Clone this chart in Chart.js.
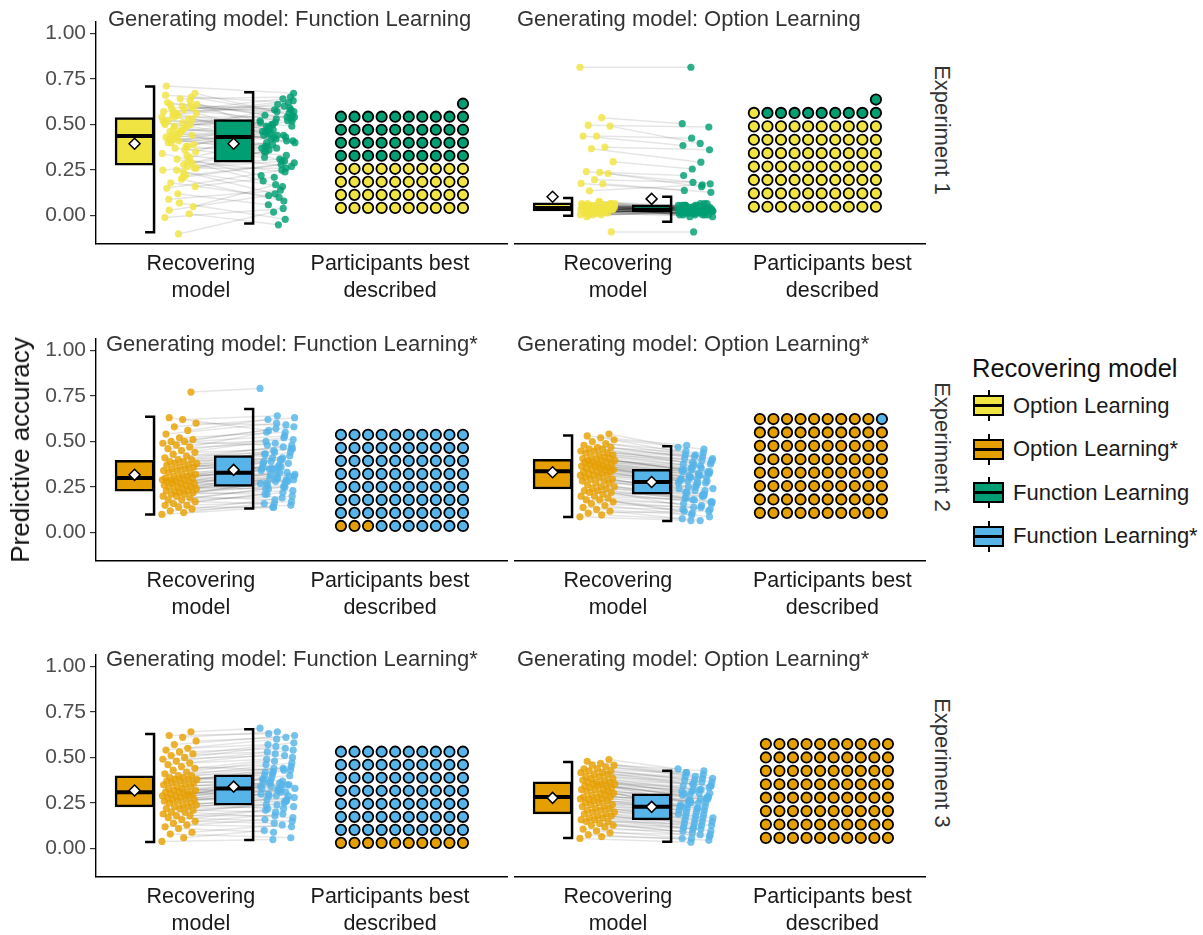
<!DOCTYPE html>
<html>
<head>
<meta charset="utf-8">
<script src="https://cdn.jsdelivr.net/npm/chart.js@4.4.1/dist/chart.umd.min.js"></script>
<style>
  body { margin: 0; background: #fff; }
  #fig { position: relative; width: 1203px; height: 935px; overflow: hidden; font-family: "Liberation Sans", Arial, Helvetica, sans-serif; }
  #fig canvas { position: absolute; }
  .txt { position: absolute; white-space: nowrap; line-height: 1; transform: translateY(-50%); }
  .strip { position: absolute; white-space: nowrap; line-height: 1; writing-mode: vertical-rl; transform: translate(-50%, -50%); font-size: 22px; color: #333; }
  .key, .whisk, .med { position: absolute; box-sizing: border-box; }
  .key { width: 31px; height: 21px; border: 2px solid #000; }
  .whisk { width: 2px; height: 31px; background: #000; }
  .med { width: 31px; height: 3px; background: #000; }
</style>
</head>
<body>
<div id="fig"></div>
<script>
/* global Chart */

const FONT = '"Liberation Sans", Arial, Helvetica, sans-serif';

const yTicks = [0, 0.25, 0.5, 0.75, 1];
const xLabels = [['Recovering', 'model'], ['Participants best', 'described']];
const experiments = ['Experiment 1', 'Experiment 2', 'Experiment 3'];
const modelNames = ['Option Learning', 'Option Learning*', 'Function Learning', 'Function Learning*'];
const modelColors = ['#F0E442', '#E69F00', '#009E73', '#56B4E9'];

// box stats per recovering model: [lower whisker, q1, median, q3, upper whisker, mean]
// Experiment 1, generated by Function Learning
const e1FuncOpt = [0.54, 0.28, 0.61, 0.44, -0.10, 0.50, 0.33, 0.57, 0.16, 0.47, 0.40, 0.63, 0.25, 0.52, 0.36, 0.59, 0.05, 0.45, 0.71, 0.30,
  0.49, 0.56, 0.21, 0.42, 0.65, 0.12, 0.51, 0.38, 0.55, 0.26, 0.46, 0.62, 0.01, 0.43, 0.34, 0.58, 0.18, 0.53, 0.41, 0.66,
  0.27, 0.48, 0.35, 0.60, 0.09, 0.50, 0.31, 0.57, 0.22, 0.44, 0.39, 0.64, 0.15, 0.53, 0.37, 0.61, 0.24, 0.46, 0.29, 0.55,
  -0.01, 0.49, 0.42, 0.67, 0.20, 0.52, 0.32, 0.56, 0.25, 0.48, 0.40, 0.59, 0.07, 0.43, 0.38, 0.54, 0.26, 0.51, 0.03, 0.60, 0.45];
const e1FuncFunc = [0.50, 0.35, 0.58, 0.30, 0.02, 0.55, 0.27, 0.64, 0.21, 0.46, 0.52, 0.44, 0.12, 0.49, 0.41, 0.60, 0.17, 0.38, 0.67, 0.24,
  0.53, 0.47, 0.29, 0.43, 0.57, 0.06, 0.40, 0.33, 0.61, 0.36, 0.51, 0.54, -0.05, 0.48, 0.22, 0.52, 0.10, 0.45, 0.37, 0.62,
  0.31, 0.42, 0.46, 0.56, 0.14, 0.50, 0.19, 0.59, 0.28, 0.39, 0.44, 0.65, 0.25, 0.47, 0.32, 0.53, 0.16, 0.43, 0.38, 0.49,
  0.04, 0.58, 0.35, 0.55, 0.08, 0.51, 0.40, 0.63, 0.30, 0.42, 0.45, 0.57, -0.02, 0.37, 0.48, 0.54, 0.26, 0.44, 0.11, 0.52, 0.41];
const e1FuncBox = [[-0.09, 0.277, 0.436, 0.537, 0.707, 0.394], [-0.043, 0.293, 0.431, 0.527, 0.676, 0.394]];
const e1FuncBest = [40, 41];

// Experiment 1, generated by Option Learning
const e1OptOpt = [0.785, 0.517, 0.477, 0.472, 0.419, 0.419, 0.36, 0.352, 0.283, 0.226, 0.23, 0.22, 0.187, 0.167, 0.165, 0.128, -0.091,
  0.03, 0.01, 0.05, 0.02, 0.04, 0.00, 0.06, 0.03, 0.02, 0.04, 0.01, 0.05, 0.03, 0.07, 0.02, 0.04,
  0.03, 0.00, 0.05, 0.02, 0.06, 0.01, 0.04, 0.03, 0.02, 0.05, 0.03, -0.01, 0.04, 0.02, 0.06, 0.03,
  0.01, 0.04, 0.02, 0.05, 0.03, 0.00, 0.06, 0.02, 0.04, 0.03, 0.01, 0.05, 0.02, 0.04, 0.03, 0.07,
  0.02, 0.01, 0.05, 0.03, 0.04, 0.00, 0.06, 0.02, 0.03, 0.04, 0.01, 0.05, 0.02, 0.03, 0.04, 0.03];
const e1OptFunc = [0.785, 0.485, 0.467, 0.38, 0.408, 0.369, 0.346, 0.28, 0.244, 0.209, 0.165, 0.15, 0.173, 0.13, 0.12, 0.16, -0.091,
  0.02, 0.03, 0.04, 0.01, 0.05, 0.02, 0.03, 0.00, 0.04, 0.02, 0.06, 0.01, 0.03, 0.05, 0.00, 0.02,
  0.04, 0.01, 0.03, 0.05, 0.02, 0.00, 0.03, 0.04, 0.01, 0.02, 0.06, 0.03, -0.01, 0.04, 0.02, 0.01,
  0.03, 0.05, 0.00, 0.02, 0.04, 0.01, 0.03, 0.06, 0.02, 0.00, 0.04, 0.03, 0.01, 0.05, 0.02, 0.03,
  0.01, 0.04, 0.02, 0.00, 0.03, 0.05, 0.02, 0.01, 0.04, 0.03, -0.01, 0.02, 0.05, 0.01, 0.03, 0.02];
const e1OptBox = [[-0.005, 0.021, 0.037, 0.064, 0.09, 0.096], [-0.037, 0.016, 0.027, 0.053, 0.096, 0.085]];
const e1OptBest = [71, 10];

// Experiment 2, generated by Function Learning*
const e2FuncOpt = [0.10, 0.11, 0.12, 0.13, 0.14, 0.15, 0.15, 0.16, 0.17, 0.18, 0.18, 0.19, 0.20, 0.20, 0.21, 0.21, 0.22, 0.22, 0.23, 0.23,
  0.23, 0.24, 0.24, 0.25, 0.25, 0.25, 0.26, 0.26, 0.27, 0.27, 0.27, 0.28, 0.28, 0.28, 0.29, 0.29, 0.29, 0.30, 0.30, 0.30,
  0.31, 0.31, 0.32, 0.32, 0.33, 0.33, 0.34, 0.34, 0.35, 0.35, 0.36, 0.36, 0.37, 0.37, 0.38, 0.38, 0.39, 0.39, 0.40, 0.40,
  0.41, 0.42, 0.43, 0.44, 0.45, 0.46, 0.47, 0.48, 0.49, 0.50, 0.50, 0.51, 0.52, 0.54, 0.56, 0.58, 0.60, 0.62, 0.63, 0.77];
const e2FuncFunc = [0.14, 0.16, 0.15, 0.19, 0.14, 0.21, 0.17, 0.22, 0.16, 0.24, 0.20, 0.25, 0.18, 0.27, 0.23, 0.26, 0.28, 0.21, 0.29, 0.25,
  0.30, 0.26, 0.31, 0.28, 0.33, 0.24, 0.32, 0.29, 0.30, 0.35, 0.27, 0.33, 0.36, 0.30, 0.34, 0.28, 0.37, 0.32, 0.35, 0.38,
  0.33, 0.39, 0.36, 0.31, 0.40, 0.35, 0.38, 0.42, 0.36, 0.41, 0.39, 0.44, 0.40, 0.35, 0.43, 0.46, 0.41, 0.45, 0.43, 0.48,
  0.47, 0.44, 0.50, 0.46, 0.52, 0.49, 0.55, 0.51, 0.53, 0.57, 0.48, 0.58, 0.55, 0.60, 0.62, 0.63, 0.59, 0.64, 0.56, 0.79];
const e2FuncBox = [[0.10, 0.228, 0.30, 0.397, 0.635, 0.317], [0.132, 0.254, 0.328, 0.423, 0.677, 0.344]];
const e2FuncBest = [3, 77];

// Experiment 2, generated by Option Learning*
const e2OptOpt = [0.08, 0.09, 0.10, 0.11, 0.12, 0.13, 0.14, 0.15, 0.16, 0.17, 0.17, 0.18, 0.19, 0.19, 0.20, 0.21, 0.21, 0.22, 0.22, 0.23,
  0.23, 0.24, 0.24, 0.25, 0.26, 0.26, 0.27, 0.27, 0.28, 0.28, 0.29, 0.29, 0.30, 0.30, 0.30, 0.31, 0.31, 0.32, 0.32, 0.32,
  0.33, 0.33, 0.33, 0.34, 0.34, 0.34, 0.35, 0.35, 0.35, 0.36, 0.36, 0.36, 0.37, 0.37, 0.37, 0.38, 0.38, 0.38, 0.39, 0.39,
  0.39, 0.40, 0.40, 0.41, 0.41, 0.42, 0.42, 0.43, 0.43, 0.44, 0.44, 0.45, 0.45, 0.46, 0.47, 0.48, 0.49, 0.50, 0.51, 0.52];
const e2OptFunc = [0.06, 0.07, 0.11, 0.06, 0.09, 0.12, 0.08, 0.13, 0.10, 0.15, 0.12, 0.14, 0.17, 0.11, 0.16, 0.19, 0.13, 0.18, 0.15, 0.20,
  0.17, 0.21, 0.16, 0.19, 0.22, 0.18, 0.23, 0.20, 0.24, 0.21, 0.26, 0.22, 0.25, 0.27, 0.23, 0.26, 0.28, 0.24, 0.27, 0.29,
  0.26, 0.30, 0.28, 0.27, 0.31, 0.29, 0.28, 0.32, 0.30, 0.29, 0.33, 0.31, 0.30, 0.34, 0.32, 0.31, 0.35, 0.33, 0.36, 0.32,
  0.34, 0.37, 0.33, 0.36, 0.38, 0.35, 0.39, 0.37, 0.40, 0.36, 0.41, 0.38, 0.42, 0.40, 0.43, 0.39, 0.44, 0.41, 0.46, 0.45];
const e2OptBox = [[0.079, 0.228, 0.323, 0.386, 0.513, 0.317], [0.058, 0.201, 0.265, 0.333, 0.455, 0.265]];
const e2OptBest = [79, 1];

// Experiment 3, generated by Function Learning*
const e3FuncOpt = [0.04, 0.06, 0.08, 0.09, 0.11, 0.12, 0.13, 0.14, 0.15, 0.16, 0.17, 0.18, 0.18, 0.19, 0.20, 0.20, 0.21, 0.22, 0.22, 0.23,
  0.23, 0.24, 0.24, 0.25, 0.25, 0.26, 0.26, 0.27, 0.27, 0.27, 0.28, 0.28, 0.29, 0.29, 0.29, 0.30, 0.30, 0.30, 0.31, 0.31,
  0.31, 0.32, 0.32, 0.33, 0.33, 0.34, 0.34, 0.35, 0.35, 0.36, 0.36, 0.37, 0.37, 0.38, 0.38, 0.38, 0.39, 0.39, 0.40, 0.40,
  0.41, 0.42, 0.43, 0.44, 0.45, 0.46, 0.47, 0.48, 0.49, 0.50, 0.51, 0.52, 0.53, 0.54, 0.55, 0.57, 0.59, 0.61, 0.62, 0.64];
const e3FuncFunc = [0.05, 0.10, 0.06, 0.13, 0.09, 0.16, 0.12, 0.19, 0.14, 0.21, 0.15, 0.22, 0.18, 0.24, 0.17, 0.25, 0.20, 0.27, 0.23, 0.26,
  0.29, 0.22, 0.28, 0.31, 0.24, 0.30, 0.33, 0.26, 0.32, 0.29, 0.34, 0.27, 0.33, 0.36, 0.30, 0.35, 0.32, 0.37, 0.33, 0.29,
  0.36, 0.34, 0.38, 0.35, 0.31, 0.39, 0.36, 0.40, 0.33, 0.41, 0.38, 0.43, 0.35, 0.42, 0.40, 0.45, 0.37, 0.44, 0.42, 0.47,
  0.44, 0.48, 0.46, 0.50, 0.43, 0.52, 0.49, 0.54, 0.51, 0.56, 0.53, 0.58, 0.55, 0.60, 0.57, 0.62, 0.61, 0.64, 0.63, 0.66];
const e3FuncBox = [[0.037, 0.229, 0.309, 0.399, 0.628, 0.319], [0.048, 0.239, 0.33, 0.404, 0.654, 0.34]];
const e3FuncBest = [10, 70];

// Experiment 3, generated by Option Learning*
const e3OptOpt = [0.05, 0.06, 0.07, 0.08, 0.09, 0.10, 0.11, 0.12, 0.12, 0.13, 0.14, 0.14, 0.15, 0.15, 0.16, 0.16, 0.17, 0.17, 0.18, 0.18,
  0.19, 0.19, 0.20, 0.20, 0.21, 0.21, 0.22, 0.22, 0.23, 0.23, 0.24, 0.24, 0.25, 0.25, 0.26, 0.26, 0.26, 0.27, 0.27, 0.27,
  0.28, 0.28, 0.29, 0.29, 0.30, 0.30, 0.31, 0.31, 0.31, 0.32, 0.32, 0.33, 0.33, 0.33, 0.34, 0.34, 0.34, 0.35, 0.35, 0.35,
  0.36, 0.36, 0.37, 0.37, 0.38, 0.38, 0.39, 0.39, 0.40, 0.40, 0.41, 0.41, 0.42, 0.42, 0.43, 0.44, 0.44, 0.45, 0.46, 0.47];
const e3OptFunc = [0.03, 0.05, 0.04, 0.07, 0.05, 0.09, 0.06, 0.10, 0.08, 0.11, 0.07, 0.12, 0.10, 0.13, 0.09, 0.14, 0.11, 0.15, 0.12, 0.16,
  0.13, 0.17, 0.14, 0.18, 0.15, 0.19, 0.16, 0.20, 0.17, 0.21, 0.18, 0.22, 0.19, 0.23, 0.20, 0.24, 0.21, 0.25, 0.22, 0.26,
  0.21, 0.25, 0.23, 0.27, 0.24, 0.28, 0.22, 0.26, 0.29, 0.25, 0.30, 0.27, 0.31, 0.24, 0.28, 0.32, 0.26, 0.30, 0.33, 0.29,
  0.31, 0.34, 0.29, 0.33, 0.35, 0.31, 0.36, 0.33, 0.37, 0.34, 0.38, 0.35, 0.39, 0.36, 0.40, 0.37, 0.41, 0.38, 0.40, 0.42];
const e3OptBox = [[0.053, 0.181, 0.271, 0.351, 0.457, 0.266], [0.032, 0.149, 0.218, 0.287, 0.41, 0.218]];
const e3OptBest = [80, 0];

// x layout on the shared 0.4 .. 2.6 axis
const BOX_X = [0.606, 1.135];
const BOX_HALF = 0.104;
const BRACKET_TICK = 0.048;
const PTS_X = [0.846, 1.369];
const PTS_HALF = 0.094;
const WAF_DX = 0.0724;
const WAF_DY = 0.0713;
const ROW_TOP = [15, 332, 648];

const panels = [
  { row: 0, col: 0, title: 'Generating model: Function Learning', models: [0, 2], a: e1FuncOpt, b: e1FuncFunc, box: e1FuncBox, best: e1FuncBest, wafX: 1.708, wafY: 0.043 },
  { row: 0, col: 1, title: 'Generating model: Option Learning', models: [0, 2], a: e1OptOpt, b: e1OptFunc, box: e1OptBox, best: e1OptBest, wafX: 1.681, wafY: 0.043 },
  { row: 1, col: 0, title: 'Generating model: Function Learning*', models: [1, 3], a: e2FuncOpt, b: e2FuncFunc, box: e2FuncBox, best: e2FuncBest, wafX: 1.708, wafY: 0.037 },
  { row: 1, col: 1, title: 'Generating model: Option Learning*', models: [1, 3], a: e2OptOpt, b: e2OptFunc, box: e2OptBox, best: e2OptBest, wafX: 1.713, wafY: 0.101 },
  { row: 2, col: 0, title: 'Generating model: Function Learning*', models: [1, 3], a: e3FuncOpt, b: e3FuncFunc, box: e3FuncBox, best: e3FuncBest, wafX: 1.708, wafY: 0.032 },
  { row: 2, col: 1, title: 'Generating model: Option Learning*', models: [1, 3], a: e3OptOpt, b: e3OptFunc, box: e3OptBox, best: e3OptBest, wafX: 1.745, wafY: 0.053 },
];

const fig = document.getElementById('fig');

function addText(text, left, top, size, color, cls) {
  const el = document.createElement('div');
  el.className = cls || 'txt';
  el.textContent = text;
  el.style.left = `${left}px`;
  el.style.top = `${top}px`;
  if (size) el.style.fontSize = `${size}px`;
  if (color) el.style.color = color;
  fig.appendChild(el);
  return el;
}

function jitter(i, k) {
  const g = k === 0 ? 0.6180339887 : 0.7548776662;
  return ((i * g + k * 0.37) % 1) * 2 - 1;
}

function buildPanel(p) {
  const cols = p.models.map((m) => modelColors[m]);
  const datasets = [];

  // waffle of best described participants, last partial row pushed to the right
  const total = p.best[0] + p.best[1];
  const fullRows = Math.floor(total / 10);
  const shift = 10 - (total % 10);
  const cells = [[], []];
  let k = 0;
  p.best.forEach((n, s) => {
    for (let j = 0; j < n; j += 1) {
      const row = Math.floor(k / 10);
      const col = (k % 10) + (row === fullRows ? shift : 0);
      cells[s].push({ x: p.wafX + col * WAF_DX, y: p.wafY + row * WAF_DY });
      k += 1;
    }
  });
  cells.forEach((c, s) => datasets.push({
    type: 'scatter', data: c, backgroundColor: cols[s], borderColor: '#000', borderWidth: 1.8, pointRadius: 5.2, order: 0,
  }));

  // means
  datasets.push({
    type: 'scatter',
    data: p.box.map((b, s) => ({ x: BOX_X[s], y: b[5] })),
    pointStyle: 'rectRot', pointRadius: 5.5, backgroundColor: '#fff', borderColor: '#000', borderWidth: 1.5, order: 0,
  });

  p.box.forEach((b, s) => {
    const xr = BOX_X[s] + BOX_HALF;
    datasets.push({
      type: 'line', showLine: true, data: [{ x: BOX_X[s] - BOX_HALF, y: b[2] }, { x: xr, y: b[2] }],
      borderColor: '#000', borderWidth: 4, pointRadius: 0, borderCapStyle: 'butt', order: 1,
    });
    datasets.push({
      type: 'line', showLine: true,
      data: [{ x: xr - BRACKET_TICK, y: b[4] }, { x: xr, y: b[4] }, { x: xr, y: b[0] }, { x: xr - BRACKET_TICK, y: b[0] }],
      borderColor: '#000', borderWidth: 2.5, pointRadius: 0, borderJoinStyle: 'miter', borderCapStyle: 'butt', order: 1,
    });
  });

  // interquartile boxes
  datasets.push({
    type: 'bar',
    data: p.box.map((b, s) => ({ x: BOX_X[s], y: [b[1], b[3]] })),
    backgroundColor: cols, borderColor: '#000', borderWidth: 2.5, borderSkipped: false, barThickness: 39, order: 2,
  });

  // participants
  const ptsA = p.a.map((v, i) => ({ x: PTS_X[0] + jitter(i, 0) * PTS_HALF, y: v }));
  const ptsB = p.b.map((v, i) => ({ x: PTS_X[1] + jitter(i, 1) * PTS_HALF, y: v }));
  [ptsA, ptsB].forEach((pts, s) => datasets.push({
    type: 'scatter', data: pts, backgroundColor: `${cols[s]}d0`, borderWidth: 0, pointRadius: 3.6, order: 3,
  }));
  ptsA.forEach((pt, i) => datasets.push({
    type: 'line', showLine: true, data: [pt, ptsB[i]], borderColor: 'rgba(0,0,0,0.10)', borderWidth: 1.5, pointRadius: 0, order: 4,
  }));

  const left = p.col === 0 ? 0 : 514;
  const width = p.col === 0 ? 508 : 412;
  const canvas = document.createElement('canvas');
  canvas.width = width;
  canvas.height = 309;
  canvas.style.left = `${left}px`;
  canvas.style.top = `${ROW_TOP[p.row] - 10}px`;
  fig.appendChild(canvas);

  const catPos = p.col === 0 ? [0.96, 1.97] : [0.955, 2.10];
  const showY = p.col === 0;

  return new Chart(canvas, {
    data: { datasets },
    options: {
      responsive: false,
      animation: false,
      events: [],
      devicePixelRatio: 1,
      layout: { autoPadding: false, padding: { top: 10, left: 0, right: 0, bottom: 0 } },
      plugins: { legend: { display: false }, tooltip: { enabled: false } },
      scales: {
        x: {
          type: 'linear', min: 0.4, max: 2.6, offset: false,
          grid: { display: false, drawTicks: false, offset: false },
          border: { display: true, color: '#000', width: 1.4 },
          afterBuildTicks: (axis) => { axis.ticks = catPos.map((v) => ({ value: v })); },
          afterFit: (scale) => { scale.height = 70; },
          ticks: {
            autoSkip: false, maxRotation: 0, padding: 7, color: '#1a1a1a',
            font: { size: 21.5, family: FONT, lineHeight: 1.23 },
            callback: (v, i) => xLabels[i],
          },
        },
        y: {
          type: 'linear', min: -0.155, max: 1.063, display: showY,
          grid: { display: true, drawOnChartArea: false, drawTicks: true, tickLength: 6, color: '#333', lineWidth: 1.2 },
          border: { display: true, color: '#000', width: 1.4 },
          afterBuildTicks: (axis) => { axis.ticks = yTicks.map((v) => ({ value: v })); },
          afterFit: (scale) => { scale.width = showY ? 96 : 0; },
          ticks: { padding: 4, color: '#4d4d4d', font: { size: 21, family: FONT }, callback: (v) => v.toFixed(2) },
        },
      },
    },
  });
}

function initialize() {
  Chart.defaults.font.family = FONT;
  panels.forEach(buildPanel);

  const titleY = [18.5, 343.5, 658.5];
  panels.forEach((p) => {
    addText(p.title, p.col === 0 ? (p.row === 0 ? 108 : 106) : 517, titleY[p.row], 22, '#333');
  });

  const stripY = [130, 447, 763];
  experiments.forEach((e, i) => addText(e, 942, stripY[i], null, null, 'strip'));

  const yTitle = addText('Predictive accuracy', 20, 450, 26, '#111');
  yTitle.style.transform = 'translate(-50%, -50%) rotate(-90deg)';

  addText('Recovering model', 972, 369, 25.5, '#111');
  const keyY = [405.5, 449, 492.7, 536.3];
  modelNames.forEach((name, i) => {
    const w = document.createElement('div');
    w.className = 'whisk';
    w.style.left = '987.5px';
    w.style.top = `${keyY[i] - 15.5}px`;
    fig.appendChild(w);
    const b = document.createElement('div');
    b.className = 'key';
    b.style.left = '973px';
    b.style.top = `${keyY[i] - 10.5}px`;
    b.style.background = modelColors[i];
    fig.appendChild(b);
    const m = document.createElement('div');
    m.className = 'med';
    m.style.left = '973px';
    m.style.top = `${keyY[i] - 1.5}px`;
    fig.appendChild(m);
    addText(name, 1013, keyY[i], 22, '#1a1a1a');
  });
}

document.addEventListener('DOMContentLoaded', initialize);
</script>
</body>
</html>
